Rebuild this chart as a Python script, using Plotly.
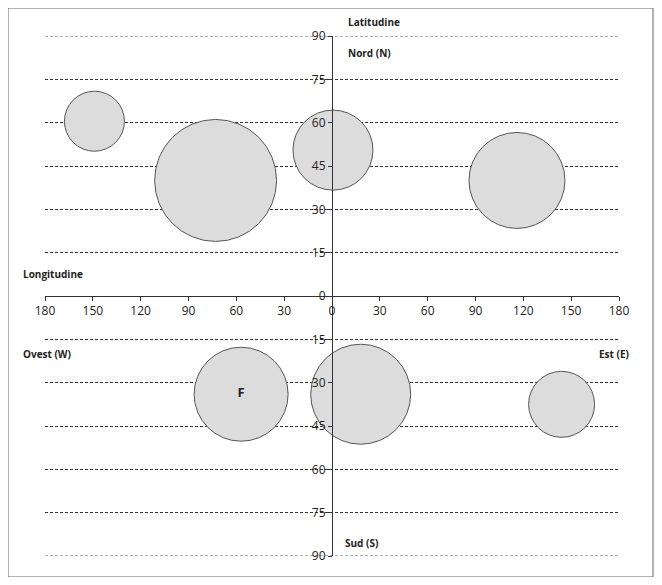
import plotly.graph_objects as go

lon = [-149, -73, 0.6, 116, -57, 18, 144]
lat = [60.5, 40, 50.5, 40, -34, -34, -37.5]
diam = [60, 122, 80, 96, 94, 100, 66]
labels = ["", "", "", "", "F", "", ""]
xt = [-180, -150, -120, -90, -60, -30, 0, 30, 60, 90, 120, 150, 180]
yt = [-90, -75, -60, -45, -30, -15, 0, 15, 30, 45, 60, 75, 90]

fnt = dict(family="Open Sans", size=10, color="#222")
tf = dict(family="Open Sans", size=12, color="#222")
fig = go.Figure(go.Scatter(
    x=lon, y=lat, mode="markers+text", text=labels,
    textfont=dict(family="Open Sans", size=13, color="#222", weight="bold"),
    marker=dict(size=diam, sizemode="diameter", color="#dcdcdd", opacity=1,
                line=dict(color="#555", width=1)),
    cliponaxis=False, hoverinfo="skip"))

fig.update_layout(
    width=646, height=569, margin=dict(l=37, r=35, t=28, b=21),
    plot_bgcolor="white", paper_bgcolor="white", showlegend=False,
    xaxis=dict(range=[-180, 180], tickvals=xt, ticktext=[str(abs(v)) for v in xt],
               showgrid=False, zeroline=False, anchor="free", position=0.5,
               showline=True, linecolor="#333", linewidth=1, ticks="outside",
               ticklen=4, tickcolor="#333", tickfont=tf),
    yaxis=dict(range=[-90, 90], tickvals=yt, ticktext=[str(abs(v)) for v in yt],
               showgrid=True, gridcolor="#333", griddash="3px,2px", gridwidth=0.8,
               zeroline=False, anchor="free", position=0.5,
               showline=True, linecolor="#333", linewidth=1, ticks="outside",
               ticklen=4, tickcolor="#333", tickfont=tf),
)
for yv in (90, -90):
    fig.add_shape(type="line", xref="x", yref="y", x0=-180, x1=180, y0=yv, y1=yv,
                  line=dict(color="#333", width=0.8, dash="3px,2px"), layer="below")

def ann(x, y, t, xa="left"):
    fig.add_annotation(x=x, y=y, xref="paper", yref="paper", text="<b>%s</b>" % t,
                       showarrow=False, xanchor=xa, yanchor="middle", font=fnt)

W, H = 574, 520
def px(xp, yp):
    return (xp - 45) / W, (556 - yp) / H

ann(*px(346, 22), "Latitudine")
ann(*px(346, 53), "Nord (N)")
ann(*px(21, 274), "Longitudine")
ann(*px(21, 354), "Ovest (W)")
ann(*px(631, 354), "Est (E)", "right")
ann(*px(343, 543), "Sud (S)")

x0, y0 = px(8, 577); x1, y1 = px(653, 8)
fig.add_shape(type="rect", xref="paper", yref="paper", x0=x0, y0=y0, x1=x1, y1=y1,
              line=dict(color="#666", width=1))

fig.write_html("out.html")
